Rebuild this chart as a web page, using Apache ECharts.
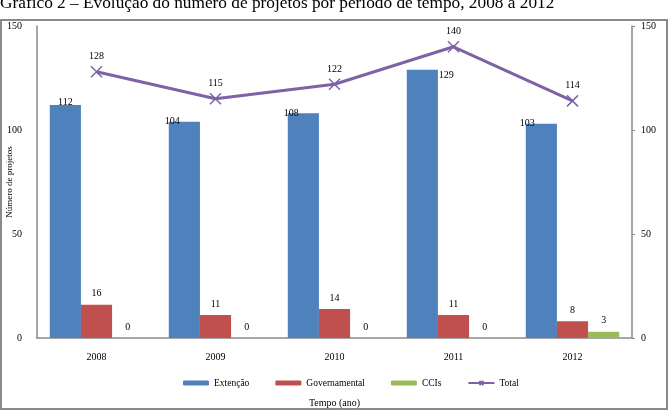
<!DOCTYPE html>
<html>
<head>
<meta charset="utf-8">
<script src="https://cdn.jsdelivr.net/npm/echarts@6/dist/echarts.min.js"></script>
<style>html,body{margin:0;padding:0;background:#fff}#c{width:672px;height:412px}</style>
</head>
<body>
<div id="c"></div>
<script>
const categories = ['2008', '2009', '2010', '2011', '2012'];
const extencao = [112, 104, 108, 129, 103];
const governamental = [16, 11, 14, 11, 8];
const ccis = [0, 0, 0, 0, 3];
const total = [128, 115, 122, 140, 114];
const yTicks = [0, 50, 100, 150];

const FONT = '"Liberation Serif", "Times New Roman", serif';
const extLabelOffsets = [[0, 2], [-12, 5], [-12, 5], [24, 11], [-14, 5]];

const chart = echarts.init(document.getElementById('c'), null, {renderer: 'canvas'});
const lbl = {show: true, position: 'top', color: '#000', fontFamily: FONT, fontSize: 10};

const option = {
  animation: false,
  textStyle: {fontFamily: FONT, color: '#000'},
  graphic: [
    {type: 'text', left: 0, top: -5, style: {text: 'Gráfico 2 – Evolução do número de projetos por período de tempo, 2008 a 2012', font: '17.3px ' + FONT, fill: '#000'}},
    {type: 'rect', shape: {x: 1, y: 20, width: 666, height: 389}, style: {fill: 'none', stroke: '#8a8a8a', lineWidth: 2}}
  ],
  grid: {left: 37, right: 40, top: 26, bottom: 74, outerBoundsMode: 'none', containLabel: false},
  legend: {
    top: 373, left: 178, itemWidth: 26, itemHeight: 5, itemGap: 26,
    textStyle: {fontFamily: FONT, fontSize: 9.5, color: '#000'},
    data: ['Extenção', 'Governamental', 'CCIs', 'Total']
  },
  xAxis: {
    type: 'category', data: categories,
    name: 'Tempo (ano)', nameLocation: 'middle', nameGap: 60,
    nameTextStyle: {fontFamily: FONT, fontSize: 10, color: '#000'},
    axisLine: {lineStyle: {color: '#8a8a8a', width: 1.5}},
    axisTick: {show: false},
    axisLabel: {fontFamily: FONT, fontSize: 10, color: '#000', margin: 14}
  },
  yAxis: [
    {
      type: 'value', min: yTicks[0], max: yTicks[yTicks.length - 1], interval: 50,
      name: 'Número de projetos', nameLocation: 'middle', nameGap: 23, nameRotate: 90,
      nameMoveOverlap: false,
      nameTextStyle: {fontFamily: FONT, fontSize: 9, color: '#000'},
      axisLine: {show: true, lineStyle: {color: '#8a8a8a', width: 1.5}},
      axisTick: {show: false},
      splitLine: {show: false},
      axisLabel: {fontFamily: FONT, fontSize: 10, color: '#000', margin: 15}
    },
    {
      type: 'value', min: yTicks[0], max: yTicks[yTicks.length - 1], interval: 50, position: 'right',
      axisLine: {show: true, lineStyle: {color: '#8a8a8a', width: 1.5}},
      axisTick: {show: true, length: 3, lineStyle: {color: '#8a8a8a'}},
      splitLine: {show: false},
      axisLabel: {fontFamily: FONT, fontSize: 10, color: '#000', margin: 9}
    }
  ],
  series: [
    {
      name: 'Extenção', type: 'bar', barGap: '0%', barCategoryGap: '21.5%',
      itemStyle: {color: '#4F81BD'},
      data: extencao.map((v, i) => ({value: v, label: Object.assign({}, lbl, {distance: 0, offset: extLabelOffsets[i]})}))
    },
    {
      name: 'Governamental', type: 'bar', barGap: '0%', barCategoryGap: '21.5%',
      itemStyle: {color: '#C0504D'},
      label: Object.assign({}, lbl, {distance: 6}),
      data: governamental
    },
    {
      name: 'CCIs', type: 'bar', barGap: '0%', barCategoryGap: '21.5%',
      itemStyle: {color: '#9BBB59'},
      label: Object.assign({}, lbl, {distance: 6}),
      data: ccis
    },
    {
      name: 'Total', type: 'line', yAxisIndex: 1,
      symbol: 'path://M0,0L10,10M10,0L0,10', symbolSize: 11,
      lineStyle: {color: '#7F62A6', width: 3},
      itemStyle: {color: '#7F62A6', borderColor: '#7F62A6', borderWidth: 1.5},
      label: Object.assign({}, lbl, {distance: 4}),
      data: total
    }
  ]
};
chart.setOption(option);
</script>
</body>
</html>
